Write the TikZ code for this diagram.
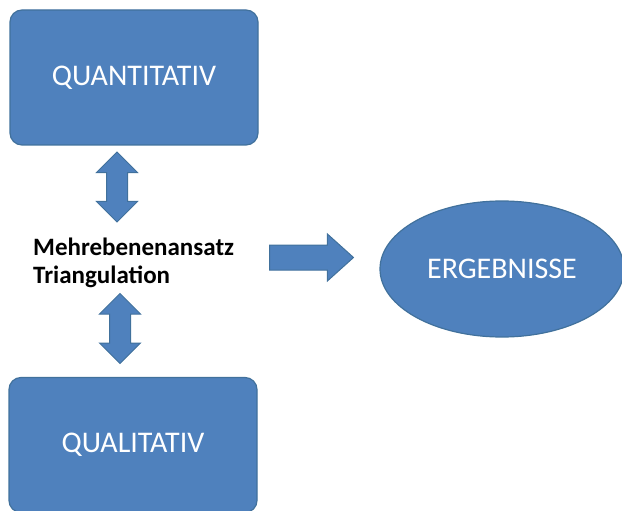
\documentclass[tikz,border=0pt]{standalone}
\usepackage{fontspec}
\setmainfont{Carlito}
\usetikzlibrary{shapes.geometric,shapes.arrows}

\definecolor{kastenblau}{HTML}{4F81BD}
\definecolor{randblau}{HTML}{41719C}

\begin{document}
\begin{tikzpicture}[x=1pt, y=-1pt,
    kasten/.style={draw=randblau, line width=1.2pt, fill=kastenblau,
        rounded corners=12pt, minimum width=248pt, minimum height=135pt,
        inner sep=0pt, text=white, font=\fontsize{30}{36}\selectfont},
    oval/.style={ellipse, draw=randblau, line width=1.2pt, fill=kastenblau,
        minimum width=244pt, minimum height=136pt, inner sep=0pt,
        text=white, font=\fontsize{30}{36}\selectfont},
    doppelpfeil/.style={double arrow, draw=randblau, line width=1pt,
        fill=kastenblau, minimum height=70pt, inner xsep=0pt,
        inner ysep=10pt, double arrow head extend=10pt, rotate=90},
    rechtspfeil/.style={single arrow, draw=randblau, line width=1pt,
        fill=kastenblau, minimum height=84pt, inner xsep=0pt,
        inner ysep=12pt, single arrow head extend=11pt,
        single arrow tip angle=84}]

  %% Hintergrund
  \useasboundingbox (0,0) rectangle (622,511);

  % Kaesten
  \node[kasten] (quant) at (134,77.5) {QUANTITATIV};
  \node[kasten] (qual) at (133,445) {QUALITATIV};

  % Ergebnis
  \node[oval] (ergeb) at (502,269) {ERGEBNISSE};

  % Ansatz in der Mitte
  \node[anchor=base west, inner sep=0pt, align=left,
    font=\bfseries\fontsize{25}{28}\selectfont] (ansatz) at (33,283)
    {Mehrebenenansatz\\Triangulation};

  % Pfeile
  \node[doppelpfeil] (pfeiloben) at (117,187) {};
  \node[doppelpfeil] (pfeilunten) at (120,328.5) {};
  \node[rechtspfeil, anchor=tail] (pfeilrechts) at (269,257.5) {};

\end{tikzpicture}
\end{document}
